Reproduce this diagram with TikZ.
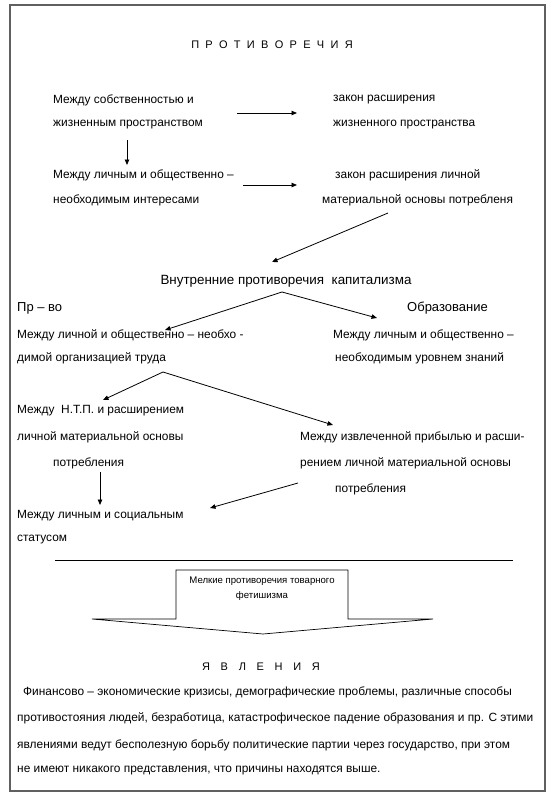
\documentclass[tikz,border=0pt]{standalone}
\usepackage{fontspec}
\setmainfont{Liberation Sans}
\usetikzlibrary{arrows.meta}
\newcommand\gapA{\hspace{6.3pt}}
\newcommand\gapB{\hspace{10.7pt}}
\begin{document}
\begin{tikzpicture}[x=1pt,y=-1pt,
  txt/.style={anchor=west,inner sep=0pt,font=\fontsize{11.9}{13}\selectfont},
  big/.style={anchor=west,inner sep=0pt,font=\fontsize{13}{15}\selectfont},
  arr/.style={draw=black,line width=0.8pt,-{Triangle[length=5.5pt,width=4.5pt]}},
  ln/.style={draw=black,line width=0.8pt}]
\useasboundingbox (0,0) rectangle (550,800);
\fill[white] (0,0) rectangle (550,800);
\draw[gray!75!black,line width=1.3pt] (10,5) rectangle (545,791);
% title
\node[inner sep=0pt,font=\fontsize{11}{13}\selectfont] (title) at (272,45)
  {П\gapA Р\gapA О\gapA Т\gapA И\gapA В\gapA О\gapA Р\gapA Е\gapA Ч\gapA И\gapA Я};
% row 1
\node[txt] (l1a) at (53,100) {Между собственностью и};
\node[txt] (l1b) at (53,125) {жизненным пространством};
\node[txt] (r1a) at (333,100) {закон расширения};
\node[txt] (r1b) at (333,125) {жизненного пространства};
\coordinate (a1s) at (237,113); \coordinate (a1e) at (297,113);
\draw[arr] (a1s) -- (a1e);
\coordinate (d1s) at (127,140); \coordinate (d1e) at (127,165);
\draw[arr] (d1s) -- (d1e);
% row 2
\node[txt] (l2a) at (53,175) {Между личным и общественно –};
\node[txt] (l2b) at (53,200) {необходимым интересами};
\node[txt] (r2a) at (335,175) {закон расширения личной};
\node[txt] (r2b) at (322,200) {материальной основы потребленя};
\coordinate (a2s) at (243,185); \coordinate (a2e) at (297,185);
\draw[arr] (a2s) -- (a2e);
\coordinate (a3s) at (388,213); \coordinate (a3e) at (272,262);
\draw[arr] (a3s) -- (a3e);
% capitalism
\node[inner sep=0pt,font=\fontsize{13.4}{15}\selectfont] (cap) at (286,281) {Внутренние противоречия\ \ капитализма};
\coordinate (b1) at (282,292);
\coordinate (b1l) at (165,330); \coordinate (b1r) at (377,318);
\draw[arr] (b1) -- (b1l);
\draw[arr] (b1) -- (b1r);
\node[big] (pr) at (17,308) {Пр – во};
\node[big] (obr) at (407,308) {Образование};
\node[txt] (p1a) at (17,335) {Между личной и общественно – необхо -};
\node[txt] (p1b) at (17,358) {димой организацией труда};
\node[txt] (o1a) at (333,335) {Между личным и общественно –};
\node[txt] (o1b) at (335,358) {необходимым уровнем знаний};
\coordinate (b2) at (163,372);
\coordinate (b2l) at (103,400); \coordinate (b2r) at (333,425);
\draw[arr] (b2) -- (b2l);
\draw[arr] (b2) -- (b2r);
% lower
\node[txt] (n1a) at (17,411) {Между\ \ Н.Т.П. и расширением};
\node[txt] (n1b) at (17,437) {личной материальной основы};
\node[txt] (n1c) at (53,463) {потребления};
\node[txt] (m1a) at (300,437) {Между извлеченной прибылью и расши-};
\node[txt] (m1b) at (300,463) {рением личной материальной основы};
\node[txt] (m1c) at (335,489) {потребления};
\coordinate (d2s) at (100,472); \coordinate (d2e) at (100,505);
\draw[arr] (d2s) -- (d2e);
\coordinate (a4s) at (298,483); \coordinate (a4e) at (210,508);
\draw[arr] (a4s) -- (a4e);
\node[txt] (s1a) at (17,516) {Между личным и социальным};
\node[txt] (s1b) at (17,540) {статусом};
% separator
\coordinate (h1) at (55,560); \coordinate (h2) at (513,560);
\draw[ln,line width=0.7pt] (h1) -- (h2);
% block arrow
\draw[black,line width=0.7pt,fill=white] (176,570) -- (348,570) -- (348,619) -- (433,619) -- (263,634) -- (92,619) -- (176,619) -- cycle;
\node[inner sep=0pt,align=center,font=\fontsize{9.6}{15}\selectfont] (box) at (262,589) {Мелкие противоречия товарного\\фетишизма};
% phenomena
\node[inner sep=0pt,font=\fontsize{11}{13}\selectfont] (yav) at (261,667)
  {Я\gapB В\gapB Л\gapB Е\gapB Н\gapB И\gapB Я};
\node[txt] (f1) at (23,692) {Финансово – экономические кризисы, демографические проблемы, различные способы};
\node[txt] (f2) at (17,718) {противостояния людей, безработица, катастрофическое падение образования и пр. С этими};
\node[txt] (f3) at (17,745) {явлениями ведут\ бесполезную борьбу политические партии через\ государство, при этом};
\node[txt] (f4) at (17,771) {не имеют никакого представления, что причины находятся выше.};
\end{tikzpicture}
\end{document}
